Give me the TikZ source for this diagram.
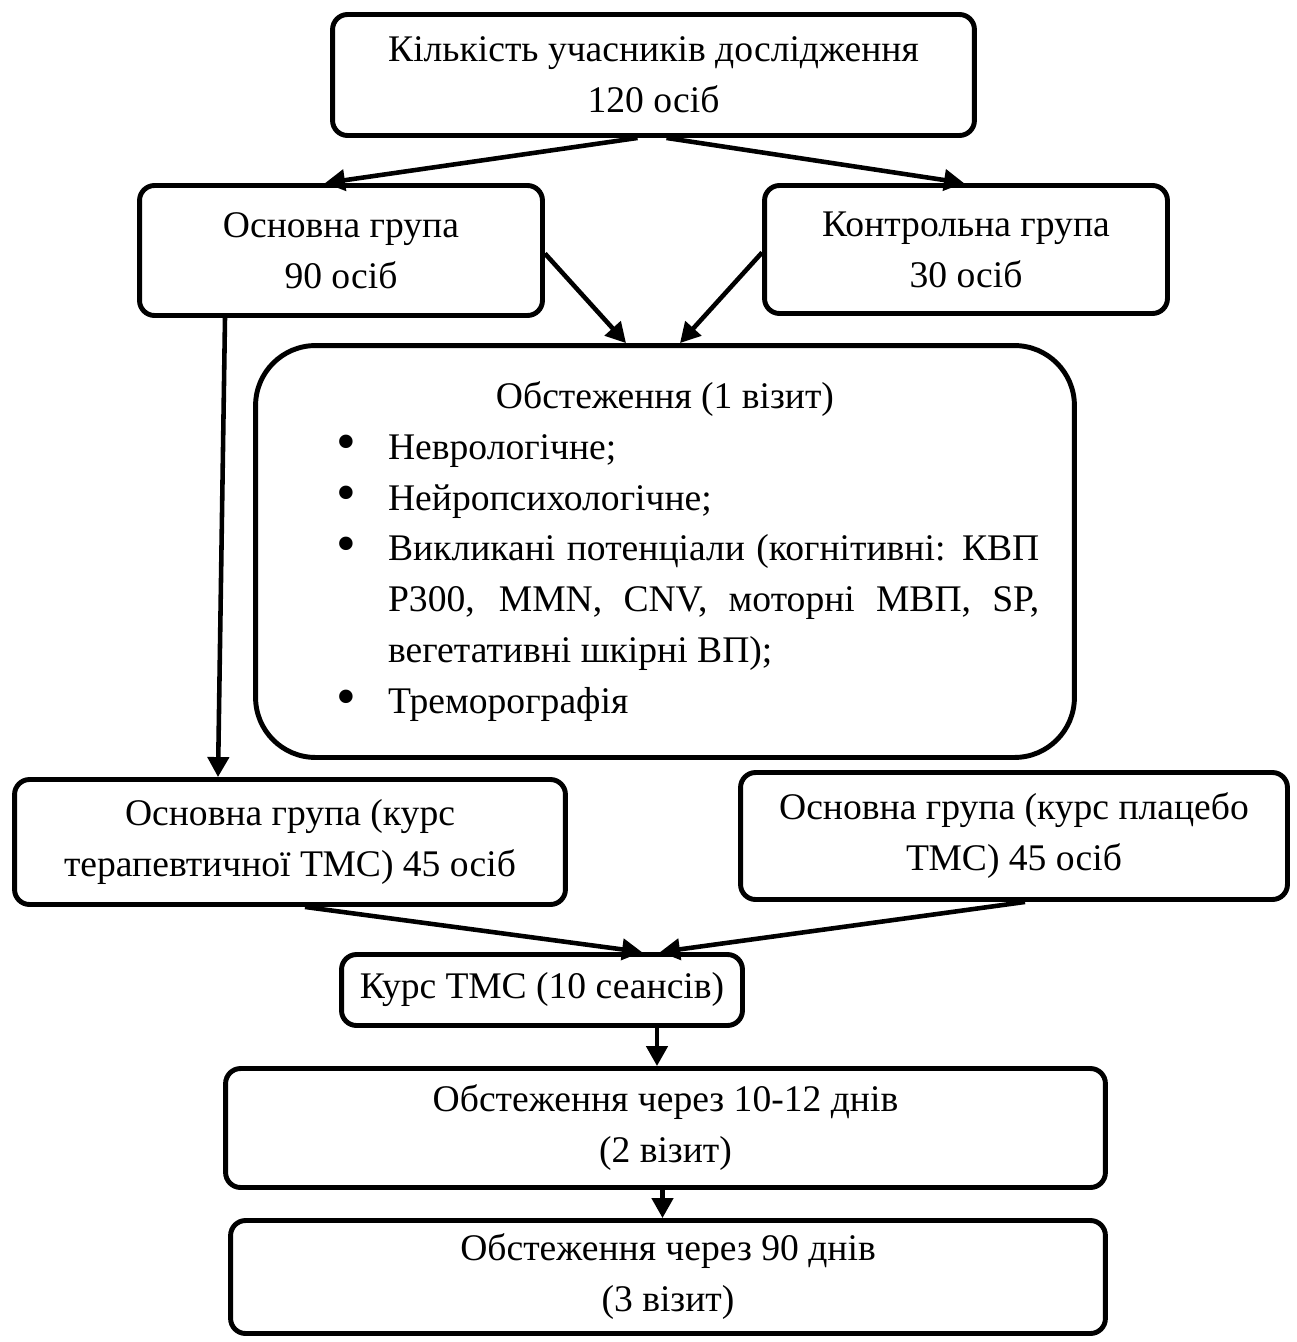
\documentclass[tikz,border=0pt]{standalone}
\usepackage{fontspec}
\setmainfont{Liberation Serif}
\usepackage{tikz}
\usetikzlibrary{arrows.meta,calc}

\newcommand\bitem{\par\noindent\hangindent=2.65cm\hangafter=1\hspace*{1.62cm}\makebox[1.03cm][l]{\raisebox{-0.05em}{\scalebox{1.5}{\textbullet}}}\ignorespaces}

\begin{document}
\begin{tikzpicture}[x=0.02cm,y=-0.02cm,
  box/.style={draw,line width=2.8pt,rounded corners=0.3cm,align=center,inner sep=0pt,
    font=\fontsize{21.4pt}{29pt}\selectfont},
  link/.style={line width=2.6pt,-{Triangle[length=0.4cm,width=0.42cm]}}]
  \useasboundingbox (0,0) rectangle (1297,1342);

  \node[box,minimum width=12.84cm,minimum height=2.42cm] (top) at (653.5,75)
    {Кількість учасників дослідження\\120 осіб};
  \node[box,minimum width=8.06cm,minimum height=2.6cm] (main) at (341,250.5)
    {Основна група\\90 осіб};
  \node[box,minimum width=8.06cm,minimum height=2.56cm] (ctrl) at (966,249.5)
    {Контрольна група\\30 осіб};
  \node[box,rounded corners=1.2cm,text width=16.38cm,minimum height=8.24cm,align=justify] (exam1) at (665,551.5) {%
    \noindent\hfil Обстеження (1 візит)\par
    \rightskip=0.7cm
    \bitem Неврологічне;
    \bitem Нейропсихологічне;
    \bitem Викликані потенціали (когнітивні: КВП\linebreak
      P300, MMN, CNV, моторні МВП, SP,\linebreak
      вегетативні шкірні ВП);
    \bitem Треморографія\par};
  \node[box,minimum width=11.02cm,minimum height=2.5cm] (ther) at (290,842)
    {Основна група (курс\\терапевтичної ТМС) 45 осіб};
  \node[box,minimum width=10.94cm,minimum height=2.54cm] (plac) at (1014,836)
    {Основна група (курс плацебо\\ТМС) 45 осіб};
  \node[box,minimum width=8.02cm,minimum height=1.42cm] (tms) at (542,990)
    {Курс ТМС (10 сеансів)};
  \node[box,minimum width=17.6cm,minimum height=2.38cm] (exam2) at (665.5,1128)
    {Обстеження через 10-12 днів\\(2 візит)};
  \node[box,minimum width=17.5cm,minimum height=2.26cm] (exam3) at (668,1277)
    {Обстеження через 90 днів\\(3 візит)};

  \draw[link] ($(top.south)+(-16,0)$) -- ($(main.north)+(-16,0)$);
  \draw[link] ($(top.south)+(13,0)$) -- ($(ctrl.north)+(-2,0)$);
  \draw[link] ($(main.east)+(0,3)$) -- ($(exam1.north)+(-39,0)$);
  \draw[link] ($(ctrl.west)+(0,3)$) -- ($(exam1.north)+(15,0)$);
  \draw[link] ($(main.south)+(-116,0)$) -- ($(ther.north)+(-72,0)$);
  \draw[link] ($(ther.south)+(15,0)$) -- ($(tms.north)+(100,0)$);
  \draw[link] ($(plac.south)+(11,0)$) -- ($(tms.north)+(118,0)$);
  \draw[link] ($(tms.south)+(115,0)$) -- ($(exam2.north)+(-8.5,0)$);
  \draw[link] ($(exam2.south)+(-3,0)$) -- ($(exam3.north)+(-5.5,0)$);
\end{tikzpicture}
\end{document}
